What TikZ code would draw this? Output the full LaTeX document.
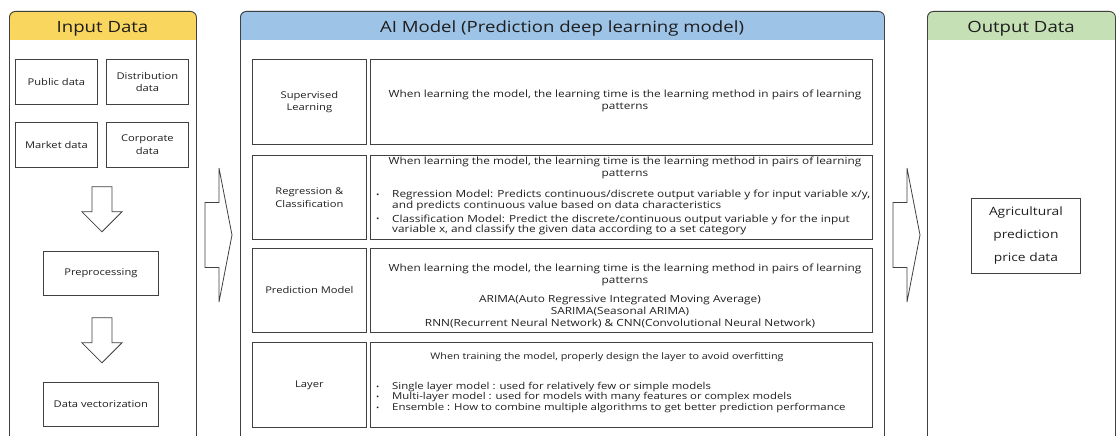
\documentclass[tikz,border=0pt]{standalone}
\usepackage{fontspec}
\setmainfont{Open Sans}[FakeStretch=1.2]
\usetikzlibrary{calc}
\definecolor{linec}{HTML}{404040}
\definecolor{textc}{HTML}{1E1E1E}
\definecolor{hdryellow}{HTML}{F9D65E}
\definecolor{hdrblue}{HTML}{9DC3E6}
\definecolor{hdrgreen}{HTML}{C5E0B4}
\newcommand{\bodysize}{\fontsize{9.85}{12}\selectfont}
\newcommand{\listsize}{\fontsize{9.85}{10.5}\selectfont}
\newcommand{\laysize}{\fontsize{9.5}{10.5}\selectfont}
\newcommand{\boxsize}{\fontsize{9.3}{12.5}\selectfont}
\newcommand{\bul}{\makebox[16pt][l]{\raisebox{0.3pt}{\scalebox{0.75}{\textbullet}}}}

\begin{document}
\begin{tikzpicture}[x=1pt,y=-1pt,
  panel/.style={draw=linec,line width=0.9pt,rounded corners=6pt,inner sep=0pt,anchor=north west},
  title/.style={font=\fontsize{15.5}{18}\selectfont,text=textc,inner sep=0pt,anchor=base},
  cell/.style={draw=linec,line width=0.8pt,inner sep=0pt,anchor=north west,align=center,text=textc,font=\boxsize},
  txt/.style={inner sep=0pt,text=textc,font=\bodysize,anchor=base},
  blist/.style={inner sep=0pt,text=textc,font=\listsize,anchor=base west},
  blockarrow/.style={draw=linec,line width=0.8pt,fill=white,line join=miter},
  downarrow/.pic={\draw[blockarrow] (-10,0) -- (10,0) -- (10,25) -- (20,25) -- (0,45) -- (-20,25) -- (-10,25) -- cycle;},
  sidearrow/.pic={\draw[blockarrow] (0,-32.5) -- (14,-32.5) -- (14,-67) -- (27,0) -- (14,67) -- (14,32.5) -- (0,32.5) -- cycle;},
]
\useasboundingbox (0,0) rectangle (1116,436);
\clip (0,0) rectangle (1116,436);

% header bands
\fill[hdryellow,rounded corners=6pt] (9,11) rectangle (196,40);
\fill[hdryellow] (9,30) rectangle (196,40);
\fill[hdrblue,rounded corners=6pt] (240,11) rectangle (884,40);
\fill[hdrblue] (240,30) rectangle (884,40);
\fill[hdrgreen,rounded corners=6pt] (927,11) rectangle (1115,40);
\fill[hdrgreen] (927,30) rectangle (1115,40);

% the three panels (open towards the bottom edge)
\node[panel,minimum width=187,minimum height=470] (inpanel) at (9,11) {};
\node[panel,minimum width=644,minimum height=470] (aipanel) at (240,11) {};
\node[panel,minimum width=188,minimum height=470] (outpanel) at (927,11) {};

\node[title] (intitle) at (102.5,32.5) {Input Data};
\node[title] (aititle) at (562,32.5) {AI Model (Prediction deep learning model)};
\node[title] (outtitle) at (1021,32.5) {Output Data};

% input data sources
\node[cell,minimum width=82,minimum height=45] (pub) at (15,59) {Public data};
\node[cell,minimum width=82,minimum height=45] (dist) at (106,59) {Distribution\\data};
\node[cell,minimum width=82,minimum height=45] (mkt) at (15,122) {Market data};
\node[cell,minimum width=82,minimum height=45] (corp) at (106,122) {Corporate\\data};
\node[cell,minimum width=115,minimum height=44] (prep) at (43,251) {Preprocessing};
\node[cell,minimum width=115,minimum height=44] (vec) at (43,382) {Data vectorization};

\pic at ($(mkt.south east)!0.5!(corp.south west)+(0,19)$) {downarrow};
\pic at ($(prep.south)+(1,22)$) {downarrow};

% flow between panels
\pic at (205,235) {sidearrow};
\pic at (893,235) {sidearrow};

% AI model: row labels
\node[cell,minimum width=114,minimum height=85] (sup) at (252,59) {Supervised\\Learning};
\node[cell,minimum width=114,minimum height=84] (reg) at (252,155) {Regression \&\\Classification};
\node[cell,minimum width=114,minimum height=84] (pred) at (252,248) {Prediction Model};
\node[cell,minimum width=114,minimum height=85] (lay) at (252,342) {Layer};

% AI model: descriptions
\node[cell,minimum width=502,minimum height=85] (supd) at (370,59) {};
\node[cell,minimum width=502,minimum height=84] (regd) at (370,155) {};
\node[cell,minimum width=502,minimum height=84] (predd) at (370,248) {};
\node[cell,minimum width=502,minimum height=85] (layd) at (370,342) {};

\node[txt] (supd1) at (625,97.6) {\begin{tabular}[t]{@{}c@{}}When learning the model, the learning time is the learning method in pairs of learning\\patterns\end{tabular}};

\node[txt] (regd1) at (625,164.4) {\begin{tabular}[t]{@{}c@{}}When learning the model, the learning time is the learning method in pairs of learning\\patterns\end{tabular}};
\node[blist] (regd2) at (376,197.4) {\begin{tabular}[t]{@{}l@{}l@{}}
  \bul & Regression Model: Predicts continuous/discrete output variable y for input variable x/y,\\
       & and predicts continuous value based on data characteristics\\[3.5pt]
  \bul & Classification Model: Predict the discrete/continuous output variable y for the input\\
       & variable x, and classify the given data according to a set category
  \end{tabular}};

\node[txt] (predd1) at (625,271.4) {\begin{tabular}[t]{@{}c@{}}When learning the model, the learning time is the learning method in pairs of learning\\patterns\end{tabular}};
\node[txt] (predd2) at (620,302.4) {\begin{tabular}[t]{@{}c@{}}ARIMA(Auto Regressive Integrated Moving Average)\\SARIMA(Seasonal ARIMA)\\RNN(Recurrent Neural Network) \& CNN(Convolutional Neural Network)\end{tabular}};

\node[txt,font=\fontsize{9}{10.5}\selectfont] (layd1) at (607,359.4) {When training the model, properly design the layer to avoid overfitting};
\node[blist,font=\laysize] (layd2) at (376,389.4) {\begin{tabular}[t]{@{}l@{}l@{}}
  \bul & Single layer model : used for relatively few or simple models\\
  \bul & Multi-layer model : used for models with many features or complex models\\
  \bul & Ensemble : How to combine multiple algorithms to get better prediction performance
  \end{tabular}};

% output
\node[cell,minimum width=109,minimum height=75,font=\fontsize{11.5}{23}\selectfont] (agri) at (971,198) {Agricultural\\prediction\\price data};
\end{tikzpicture}
\end{document}
